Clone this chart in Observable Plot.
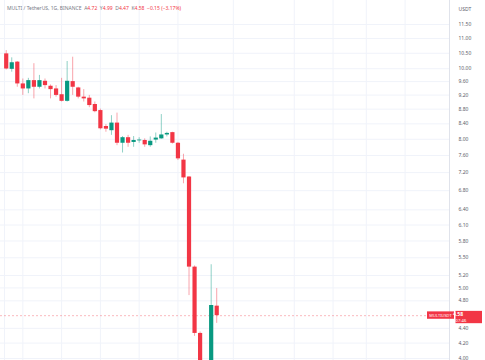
<!DOCTYPE html>
<html><head><meta charset="utf-8">
<script src="https://cdn.jsdelivr.net/npm/d3@7"></script>
<script src="https://cdn.jsdelivr.net/npm/@observablehq/plot@0.6"></script>
<style>
html,body{margin:0;padding:0;background:#fff;}
#wrap{position:relative;width:485px;height:360px;overflow:hidden;font-family:"Noto Sans",Roboto,sans-serif;}
#hdr{position:absolute;left:7px;top:5px;font-size:5px;line-height:6px;color:#787b86;white-space:nowrap;}
#hdr .r{color:#f23645}
</style></head><body>
<div id="wrap"><div id="chart"></div><div id="hdr"></div></div>
<script>
// ---- data ----
const symbol = "MULTI / TetherUS, 1G, BINANCE";
const pairLabel = "MULTIUSDT";
const currency = "USDT";
const countdown = "14:07:46";
const ohlcLetters = ["A", "Y", "D", "K"];
const openV  = [10.48, 9.98, 10.21, 9.53, 9.38, 9.63, 9.43, 9.61, 9.46, 9.38, 9.21, 9.02, 9.60, 9.41, 9.14, 9.11, 8.93, 8.76, 8.33, 8.22, 8.42, 7.90, 8.04, 7.92, 7.96, 7.97, 7.84, 7.98, 8.01, 8.11, 8.17, 7.90, 7.49, 7.10, 5.34, 4.33, 3.70, 3.60, 4.72];
const highV  = [10.59, 10.35, 10.23, 9.68, 9.70, 10.16, 9.79, 9.68, 9.50, 9.48, 9.70, 10.23, 10.37, 9.43, 9.36, 9.19, 9.00, 8.80, 8.38, 8.62, 8.69, 8.07, 8.10, 8.07, 8.04, 8.01, 8.06, 8.16, 8.65, 8.18, 8.18, 7.92, 7.63, 7.11, 5.36, 4.35, 3.90, 5.38, 4.99];
const lowV   = [9.96, 9.89, 9.43, 9.19, 9.24, 9.09, 9.38, 9.38, 9.09, 9.14, 9.00, 9.00, 9.19, 9.09, 9.00, 8.84, 8.70, 8.24, 8.18, 8.10, 7.84, 7.66, 7.80, 7.80, 7.90, 7.80, 7.80, 7.90, 8.00, 8.06, 7.88, 7.48, 6.95, 4.88, 4.29, 3.55, 3.30, 3.45, 4.47];
const closeV = [9.99, 10.19, 9.53, 9.38, 9.63, 9.43, 9.63, 9.48, 9.36, 9.19, 9.02, 9.61, 9.43, 9.14, 9.09, 8.90, 8.73, 8.27, 8.26, 8.42, 7.90, 8.04, 7.90, 7.97, 7.98, 7.86, 7.95, 8.03, 8.11, 8.15, 7.90, 7.52, 7.08, 5.34, 4.33, 3.70, 3.60, 4.73, 4.58];
const yTicks = [11.5, 11.0, 10.5, 10.0, 9.6, 9.2, 8.8, 8.4, 8.0, 7.6, 7.2, 6.8, 6.4, 6.1, 5.8, 5.5, 5.2, 5.0, 4.8, 4.4, 4.2, 4.0];
const gridX = [-0.3, 3, 10, 17, 24, 31, 41, 52, 59, 65, 72];
const xDomain = [-1.03, 80.02];
const yDomain = [4.0, 11.5];

const red = "#f23645", green = "#089981";
const candles = openV.map((o, i) => ({i, open: o, high: highV[i], low: lowV[i], close: closeV[i]}));
const last = candles[candles.length - 1];
const prevClose = candles[candles.length - 2].close;
const chg = last.close - prevClose;

const plot = Plot.plot({
  width: 485, height: 360,
  marginLeft: 0, marginRight: 36, marginTop: 0, marginBottom: 0,
  style: {background: "#fff", color: "#5d606b", fontFamily: "'Noto Sans', Roboto, sans-serif"},
  x: {type: "linear", domain: xDomain, axis: null},
  y: {type: "log", domain: yDomain, range: [358, 24], axis: null},
  color: {type: "identity"},
  marks: [
    Plot.ruleY(yTicks, {stroke: "#f0f3fa"}),
    Plot.ruleX(gridX, {stroke: "#f0f3fa"}),
    Plot.ruleX([xDomain[1]], {stroke: "#e0e3eb"}),
    Plot.ruleY([last.close], {stroke: red, strokeOpacity: 0.35, strokeDasharray: "2,2"}),
    Plot.ruleX(candles, {x: "i", y1: "low", y2: "high", stroke: d => d.close >= d.open ? green : red, strokeOpacity: 0.45, clip: true}),
    Plot.ruleX(candles, {x: "i", y1: "open", y2: "close", stroke: d => d.close >= d.open ? green : red, strokeWidth: 4.2, clip: true}),
    Plot.axisY(yTicks, {anchor: "right", tickSize: 0, tickPadding: 9, tickFormat: d => d.toFixed(2), fontSize: 5}),
    Plot.text([currency], {frameAnchor: "top-right", dx: 9, dy: 7, textAnchor: "start", fontSize: 5})
  ]
});
document.getElementById("chart").append(plot);

// last-price labels, positioned through the plot's own scales
const svg = d3.select(plot);
const yp = plot.scale("y").apply(last.close);
const xr = plot.scale("x").range[1];
const g = svg.append("g").attr("font-family", "'Noto Sans', Roboto, sans-serif");
g.append("rect").attr("x", xr - 22).attr("y", yp - 3.8).attr("width", 27).attr("height", 7.4).attr("fill", red);
g.append("text").attr("x", xr - 8.5).attr("y", yp).attr("dy", "0.35em").attr("text-anchor", "middle")
  .attr("font-size", 4).attr("fill", "#fff").text(pairLabel);
g.append("rect").attr("x", xr + 6.5).attr("y", yp - 4.3).attr("width", 26.5).attr("height", 12.3).attr("fill", red);
g.append("text").attr("x", xr + 9).attr("y", yp - 0.8).attr("dy", "0.35em")
  .attr("font-size", 5).attr("font-weight", "bold").attr("fill", "#fff").text(last.close.toFixed(2));
g.append("text").attr("x", xr + 9).attr("y", yp + 5).attr("dy", "0.35em")
  .attr("font-size", 4.2).attr("fill", "#fff").text(countdown);

// header line
const vals = [last.open, last.high, last.low, last.close];
const fmtSigned = v => (v < 0 ? "\u2212" : "+") + Math.abs(v).toFixed(2);
let html = symbol + "&nbsp;&nbsp;";
ohlcLetters.forEach((L, k) => { html += L + '<span class="r">' + vals[k].toFixed(2) + "</span>&nbsp;&nbsp;"; });
html += '<span class="r">' + fmtSigned(chg) + " (" + fmtSigned(chg / prevClose * 100) + "%)</span>";
document.getElementById("hdr").innerHTML = html;
</script>
</body></html>
